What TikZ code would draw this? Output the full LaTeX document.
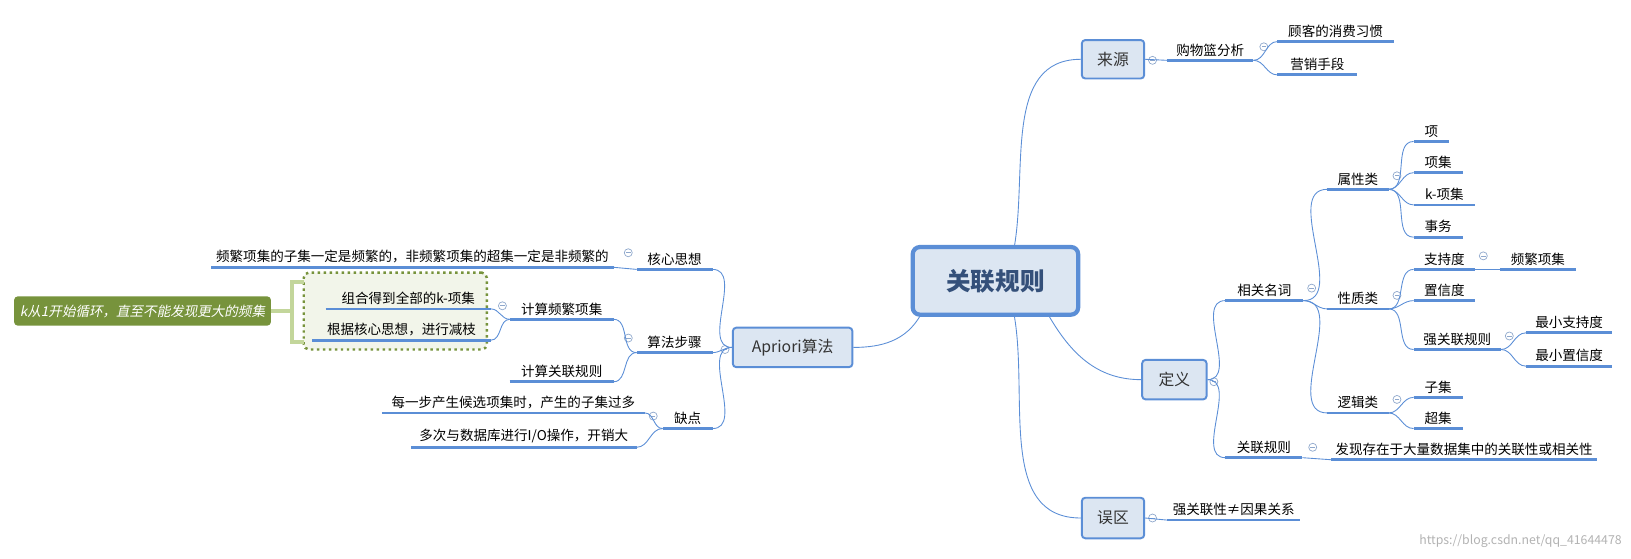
\documentclass[tikz,border=0pt]{standalone}
\usepackage{fontspec}
\setmainfont{Noto Sans CJK SC}
\newfontfamily\slantcjk[FakeSlant=0.2]{Noto Sans CJK SC}
\usetikzlibrary{positioning}
\definecolor{lineblue}{HTML}{5B8ED6}
\definecolor{boxfill}{HTML}{DCE6F2}
\definecolor{titleblue}{HTML}{34507A}
\definecolor{olive}{HTML}{77933C}
\definecolor{palegreen}{HTML}{C3D69B}
\definecolor{notefill}{HTML}{F2F5EA}
\definecolor{cgray}{HTML}{8FA8CC}
\tikzset{
  uline/.style={line width=1.6pt,draw=lineblue},
  link/.style={draw=lineblue,line width=0.5pt},
  topictext/.style={inner sep=1pt,font=\fontsize{7.7}{9}\selectfont},
  mainbox/.style={draw=lineblue,fill=boxfill,line width=1.1pt,rounded corners=2pt,
    font=\fontsize{9}{11}\selectfont,text=black!80},
  collapse/.style={circle,draw=cgray,line width=0.4pt,inner sep=0pt,minimum size=0.16cm,
    path picture={\draw[cgray,line width=0.4pt] ([xshift=0.045cm]path picture bounding box.center) -- ([xshift=-0.045cm]path picture bounding box.center);}},
}
% underlined topic: name, x1, x2, y, text
\newcommand\topic[5]{%
  \draw[uline] (#2,#4) coordinate (#1-l) -- (#3,#4) coordinate (#1-r);
  \node[topictext,anchor=south] (#1) at ({(#2+#3)/2},#4-2) {#5};}
\newcommand\fold[3]{\node[collapse] (#1) at (#2,#3) {};}
\begin{document}
\begin{tikzpicture}[x=0.0208cm,y=-0.0208cm]
  \useasboundingbox (0,0) rectangle (1568,537);

  % centre and main branches
  \node[draw=lineblue,fill=boxfill,line width=2.4pt,rounded corners=4pt,minimum width=159*0.0208cm,
        minimum height=65*0.0208cm,font=\fontsize{14}{16}\bfseries,text=titleblue] (center) at (957,270) {关联规则};
  \node[mainbox,minimum width=60*0.0208cm,minimum height=37*0.0208cm] (src) at (1070,57) {来源};
  \node[mainbox,minimum width=62*0.0208cm,minimum height=38*0.0208cm] (def) at (1129,365) {定义};
  \node[mainbox,minimum width=60*0.0208cm,minimum height=39*0.0208cm] (err) at (1070,498) {误区};
  \node[mainbox,minimum width=115*0.0208cm,minimum height=38*0.0208cm] (apr) at (762,334) {Apriori算法};

  \draw[link] (975,238) to[out=80,in=180] (src.west);
  \draw[link] (1008,303) to[out=-60,in=180] (def.west);
  \draw[link] (975,303) to[out=-80,in=180] (err.west);
  \draw[link] (885,303) to[out=-120,in=0] (apr.east);

  % 来源
  \fold{f1}{1108}{58}
  \topic{basket}{1122}{1205}{58}{购物篮分析}
  \fold{f2}{1215}{45}
  \topic{habit}{1228}{1340}{40}{顾客的消费习惯}
  \topic{market}{1228}{1305}{72}{营销手段}
  \draw[link] (src.east) -- (basket-l);
  \draw[link] (basket-r) to[out=0,in=180] (habit-l);
  \draw[link] (basket-r) to[out=0,in=180] (market-l);

  % 定义
  \fold{f3}{1167}{367}
  \topic{terms}{1178}{1253}{289}{相关名词}
  \fold{f4}{1261}{277}
  \topic{rule}{1178}{1252}{440}{关联规则}
  \fold{f5}{1262}{430}
  \topic{ruledef}{1280}{1535}{442}{发现存在于大量数据集中的关联性或相关性}
  \draw[link] (def.east) to[out=0,in=180] (terms-l);
  \draw[link] (def.east) to[out=0,in=180] (rule-l);
  \draw[link] (rule-r) -- (ruledef-l);

  \topic{attr}{1276}{1335}{182}{属性类}
  \fold{f6}{1343}{169}
  \topic{prop}{1276}{1335}{297}{性质类}
  \fold{f7}{1343}{284}
  \topic{logic}{1276}{1335}{397}{逻辑类}
  \fold{f8}{1343}{384}
  \foreach \n in {attr,prop,logic}
    \draw[link] (terms-r) to[out=0,in=180] (\n-l);

  \topic{item}{1359}{1393}{136}{项}
  \topic{itemset}{1359}{1406}{166}{项集}
  \topic{kitem}{1359}{1418}{197}{k-项集}
  \topic{trans}{1359}{1406}{228}{事务}
  \foreach \n in {item,itemset,kitem,trans}
    \draw[link] (attr-r) to[out=0,in=180] (\n-l);

  \topic{supp}{1359}{1418}{259}{支持度}
  \fold{f9}{1426}{246}
  \topic{freq}{1442}{1515}{259}{频繁项集}
  \topic{conf}{1359}{1418}{289}{置信度}
  \topic{strong}{1359}{1443}{336}{强关联规则}
  \fold{f10}{1451}{323}
  \topic{minsup}{1467}{1550}{320}{最小支持度}
  \topic{minconf}{1467}{1550}{352}{最小置信度}
  \foreach \n in {supp,conf,strong}
    \draw[link] (prop-r) to[out=0,in=180] (\n-l);
  \draw[link] (supp-r) -- (freq-l);
  \draw[link] (strong-r) to[out=0,in=180] (minsup-l);
  \draw[link] (strong-r) to[out=0,in=180] (minconf-l);

  \topic{subset}{1359}{1406}{382}{子集}
  \topic{superset}{1359}{1406}{412}{超集}
  \draw[link] (logic-r) to[out=0,in=180] (subset-l);
  \draw[link] (logic-r) to[out=0,in=180] (superset-l);

  % 误区
  \fold{f11}{1108}{498}
  \topic{myth}{1122}{1250}{500}{强关联性≠因果关系}
  \draw[link] (err.east) -- (myth-l);

  % Apriori算法
  \fold{f12}{697}{336}
  \topic{core}{612}{685}{259}{核心思想}
  \fold{f13}{604}{243}
  \topic{coretext}{203}{590}{257}{频繁项集的子集一定是频繁的，非频繁项集的超集一定是非频繁的}
  \topic{steps}{612}{685}{339}{算法步骤}
  \fold{f14}{604}{325}
  \topic{cons}{637}{685}{412}{缺点}
  \fold{f15}{628}{400}
  \foreach \n in {core,steps,cons}
    \draw[link] (apr.west) to[out=180,in=0] (\n-r);
  \draw[link] (core-l) -- (coretext-r);

  \topic{many}{367}{620}{397}{每一步产生候选项集时，产生的子集过多}
  \topic{io}{395}{612}{430}{多次与数据库进行I/O操作，开销大}
  \draw[link] (cons-l) to[out=180,in=0] (many-r);
  \draw[link] (cons-l) to[out=180,in=0] (io-r);

  \node[draw=olive,line width=1.4pt,dotted,fill=notefill,rounded corners=3pt,
        minimum width=176*0.0208cm,minimum height=74*0.0208cm] (group) at (380,299) {};
  \topic{combine}{313}{472}{297}{组合得到全部的k-项集}
  \topic{prune}{300}{472}{327}{根据核心思想，进行减枝}
  \topic{calcfreq}{490}{590}{307}{计算频繁项集}
  \fold{f16}{483}{294}
  \topic{calcrule}{490}{590}{367}{计算关联规则}
  \draw[link] (steps-l) to[out=180,in=0] (calcfreq-r);
  \draw[link] (steps-l) to[out=180,in=0] (calcrule-r);
  \draw[link] (calcfreq-l) to[out=180,in=0] (combine-r);
  \draw[link] (calcfreq-l) to[out=180,in=0] (prune-r);

  \node[fill=olive,rounded corners=2pt,text=white,minimum width=245*0.0208cm,minimum height=28*0.0208cm,
        font=\fontsize{7.7}{9}\slantcjk] (loop) at (137,299) {k从1开始循环，直至不能发现更大的频集};
  \draw[palegreen,line width=2.4pt] (292,271) -- (281,271) -- (281,329) -- (292,329);
  \draw[palegreen,line width=2.4pt] (281,299) -- (loop.east);

  \node[text=black!30,font=\fontsize{7}{8}\selectfont,anchor=east] (mark) at (1565,520) {https://blog.csdn.net/qq\_41644478};
\end{tikzpicture}
\end{document}
